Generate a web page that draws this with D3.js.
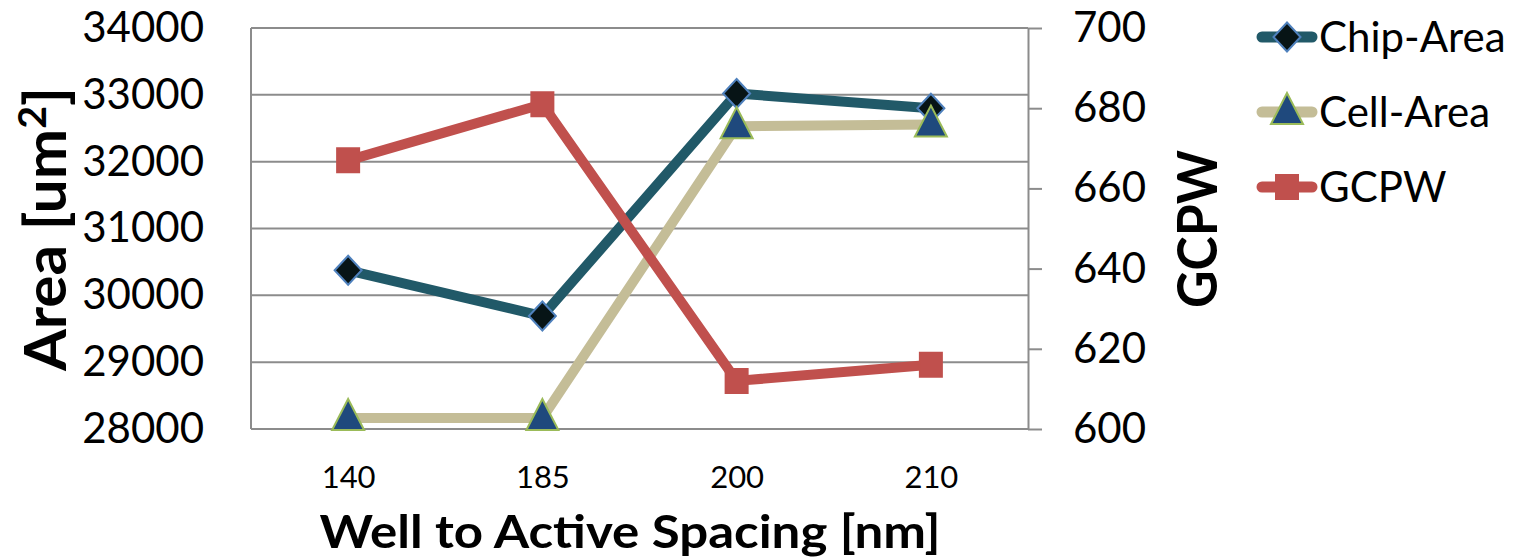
<!DOCTYPE html>
<html>
<head>
<meta charset="utf-8">
<script src="https://cdn.jsdelivr.net/npm/d3@7"></script>
<style>
  body { margin: 0; background: #fff; }
  svg { display: block; font-family: Lato, "Open Sans", sans-serif; }
</style>
</head>
<body>
<svg id="chart" width="1515" height="558"></svg>
<script>
// data
const categories = ["140", "185", "200", "210"];
const chipArea = [30375, 29690, 33020, 32800];
const cellArea = [28165, 28165, 32530, 32555];
const gcpw = [667, 681, 612, 616];
const areaTicks = [28000, 29000, 30000, 31000, 32000, 33000, 34000];
const gcpwTicks = [600, 620, 640, 660, 680, 700];
const seriesNames = ["Chip-Area", "Cell-Area", "GCPW"];

const margin = {top: 28, right: 487, bottom: 129, left: 251};
const width = 1515, height = 558;

const svg = d3.select('#chart');

let x = d3.scalePoint()
          .domain(categories)
          .range([margin.left, width - margin.right])
          .padding(0.5);

let yArea = d3.scaleLinear()
              .domain([28000, 34000])
              .range([height - margin.bottom, margin.top]);

let yGcpw = d3.scaleLinear()
              .domain([600, 700])
              .range([height - margin.bottom, margin.top]);

// gridlines
svg.append('g')
    .selectAll('line')
    .data(areaTicks)
    .join('line')
    .attr('x1', margin.left)
    .attr('x2', width - margin.right)
    .attr('y1', d => yArea(d))
    .attr('y2', d => yArea(d))
    .attr('stroke', '#8c8c8c')
    .attr('stroke-width', 2);

// left border of plot
svg.append('line')
    .attr('x1', margin.left).attr('x2', margin.left)
    .attr('y1', margin.top).attr('y2', height - margin.bottom)
    .attr('stroke', '#8c8c8c')
    .attr('stroke-width', 2);

// left axis labels
svg.append('g')
    .attr('transform', `translate(${margin.left},0)`)
    .call(d3.axisLeft(yArea).tickValues(areaTicks).tickFormat(d3.format('d')).tickSize(0).tickPadding(47))
    .call(g => g.select('.domain').remove())
    .selectAll('text')
    .attr('font-size', 42)
    .attr('fill', '#000')
    .attr('font-family', 'Lato');

// right axis
const rightAxis = svg.append('g')
    .attr('transform', `translate(${width - margin.right},0)`)
    .call(d3.axisRight(yGcpw).tickValues(gcpwTicks).tickSize(14).tickPadding(31).tickSizeOuter(0));
rightAxis.select('.domain').attr('stroke', '#8c8c8c').attr('stroke-width', 2);
rightAxis.selectAll('line').attr('stroke', '#8c8c8c').attr('stroke-width', 2);
rightAxis.selectAll('text')
    .attr('font-size', 42)
    .attr('fill', '#000')
    .attr('font-family', 'Lato');

// bottom axis labels
svg.append('g')
    .attr('transform', `translate(0,${height - margin.bottom})`)
    .call(d3.axisBottom(x).tickSize(0).tickPadding(37))
    .call(g => g.select('.domain').remove())
    .selectAll('text')
    .attr('font-size', 31)
    .attr('fill', '#000')
    .attr('font-family', 'Lato');

// axis titles
svg.append('text')
    .attr('x', 630)
    .attr('y', 548)
    .attr('text-anchor', 'middle')
    .attr('font-weight', 'bold')
    .attr('font-size', 46)
    .attr('textLength', 621)
    .attr('lengthAdjust', 'spacingAndGlyphs')
    .text('Well to Active Spacing [nm]');

const areaTitle = svg.append('text')
    .attr('transform', 'translate(66,229) rotate(-90)')
    .attr('text-anchor', 'middle')
    .attr('font-weight', 'bold')
    .attr('font-size', 58)
    .attr('textLength', 284)
    .attr('lengthAdjust', 'spacingAndGlyphs');
areaTitle.append('tspan').text('Area [um');
areaTitle.append('tspan').attr('dy', -20).attr('font-size', 38).text('2');
areaTitle.append('tspan').attr('dy', 20).text(']');

svg.append('text')
    .attr('transform', 'translate(1217,229) rotate(-90)')
    .attr('text-anchor', 'middle')
    .attr('font-weight', 'bold')
    .attr('font-size', 56)
    .attr('textLength', 158)
    .attr('lengthAdjust', 'spacingAndGlyphs')
    .text('GCPW');

// marker shapes
function diamond(cx, cy) {
  return `M${cx},${cy - 14.5}L${cx + 13.5},${cy}L${cx},${cy + 14.5}L${cx - 13.5},${cy}Z`;
}
function triangle(cx, cy) {
  return `M${cx},${cy - 19}L${cx + 16},${cy + 12}L${cx - 16},${cy + 12}Z`;
}
function square(cx, cy) {
  return `M${cx - 11},${cy - 12}h22v24h-22Z`;
}

const series = [
  {name: seriesNames[0], values: chipArea, y: yArea, line: '#215968', fill: '#071416', stroke: '#4f81bd', shape: diamond},
  {name: seriesNames[1], values: cellArea, y: yArea, line: '#c4bd97', fill: '#1f497d', stroke: '#9bbb59', shape: triangle},
  {name: seriesNames[2], values: gcpw, y: yGcpw, line: '#c0504d', fill: '#c0504d', stroke: '#c0504d', shape: square}
];

const lineGen = d3.line();

// lines first, then markers on top
series.forEach(s => {
  const pts = categories.map((c, i) => [x(c), s.y(s.values[i])]);
  svg.append('path')
      .attr('d', lineGen(pts))
      .attr('fill', 'none')
      .attr('stroke', s.line)
      .attr('stroke-width', 10)
      .attr('stroke-linejoin', 'round');
});

series.forEach(s => {
  svg.append('g')
      .selectAll('path')
      .data(s.values)
      .join('path')
      .attr('d', (d, i) => s.shape(x(categories[i]), s.y(d)))
      .attr('fill', s.fill)
      .attr('stroke', s.stroke)
      .attr('stroke-width', 2);
});

// legend
const legend = svg.append('g');
series.forEach((s, i) => {
  const ly = 37 + i * 75;
  legend.append('line')
      .attr('x1', 1262).attr('x2', 1312)
      .attr('y1', ly).attr('y2', ly)
      .attr('stroke', s.line)
      .attr('stroke-width', 11)
      .attr('stroke-linecap', 'round');
  legend.append('path')
      .attr('d', s.shape(1287, ly))
      .attr('fill', s.fill)
      .attr('stroke', s.stroke)
      .attr('stroke-width', 2);
  legend.append('text')
      .attr('x', 1319)
      .attr('y', ly + 15)
      .attr('font-size', 42)
      .text(s.name);
});
</script>
</body>
</html>
